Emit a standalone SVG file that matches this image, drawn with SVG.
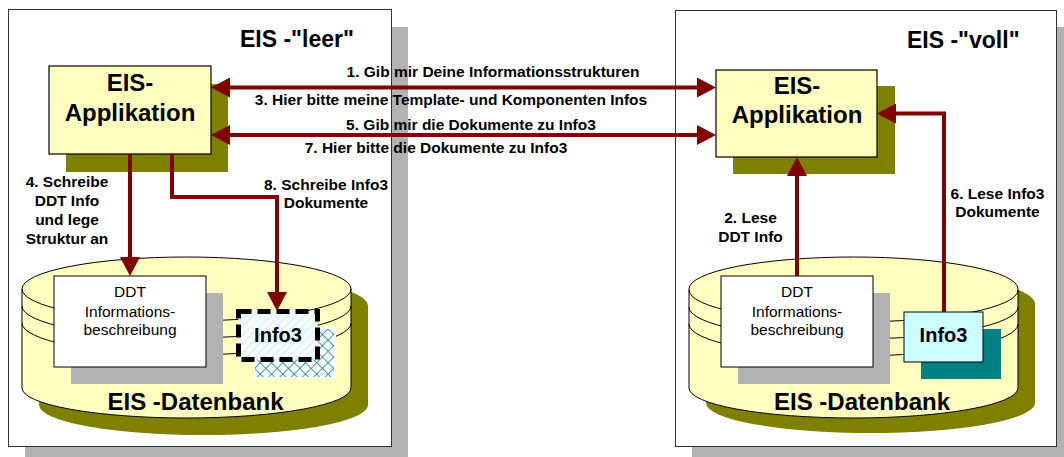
<svg xmlns="http://www.w3.org/2000/svg" width="1064" height="457" viewBox="0 0 1064 457">
  <style>
    .panel { fill: #ffffff; stroke: #333333; stroke-width: 1; }
    .pshadow { fill: #b2b2b2; }
    .app { fill: #ffffc0; stroke: #000000; stroke-width: 1.2; }
    .olive { fill: #808000; }
    .db { fill: #ffffc0; stroke: #000000; stroke-width: 1; }
    .ring { fill: none; stroke: #000000; stroke-width: 1; }
    .doc { fill: #ffffff; stroke: #000000; stroke-width: 1; }
    .gshadow { fill: #b2b2b2; }
    .title { font: bold 23px "Liberation Sans", Arial, sans-serif; fill: #000; }
    .apptxt { font: bold 24px "Liberation Sans", Arial, sans-serif; fill: #000; text-anchor: middle; }
    .dbtxt { font: bold 24px "Liberation Sans", Arial, sans-serif; fill: #000; text-anchor: middle; }
    .lbl { font: bold 15.5px "Liberation Sans", Arial, sans-serif; fill: #000; text-anchor: middle; }
    .doctxt { font: 15.5px "Liberation Sans", Arial, sans-serif; fill: #000; text-anchor: middle; }
    .infotxt { font: bold 20px "Liberation Sans", Arial, sans-serif; fill: #000; text-anchor: middle; }
    .conn { fill: none; stroke: #800000; stroke-width: 4; }
  </style>
  <defs>
    <marker id="head" viewBox="0 0 19 20" refX="13" refY="10" markerWidth="19" markerHeight="20" markerUnits="userSpaceOnUse" orient="auto-start-reverse">
      <path d="M0,0 L19,10 L0,20 Z" fill="#800000"/>
    </marker>
    <pattern id="stripes" width="6" height="6" patternUnits="userSpaceOnUse" patternTransform="rotate(45)">
      <rect width="6" height="6" fill="#ffffff"/>
      <line x1="0" y1="0" x2="0" y2="6" stroke="#bff3fa" stroke-width="2.5"/>
    </pattern>
    <pattern id="cross" width="8" height="8" patternUnits="userSpaceOnUse" patternTransform="rotate(45)">
      <rect width="8" height="8" fill="#ffffff"/>
      <line x1="0" y1="0" x2="0" y2="8" stroke="#008080" stroke-width="1.5"/>
      <line x1="0" y1="0" x2="8" y2="0" stroke="#008080" stroke-width="1.5"/>
    </pattern>
    <!-- cylinder body: top back arc, sides, bottom front arc -->
    <path id="cyl" d="M22,289 L22,388 A164.5,30 0 0 0 351,388 L351,289 A164.5,32 0 0 0 22,289 Z"/>
  </defs>

  <!-- left frame: EIS "leer" -->
  <g id="panel-leer">
    <rect class="pshadow" x="25" y="27" width="383" height="437"/>
    <rect class="panel" x="8.5" y="9.5" width="383" height="437"/>
    <text class="title" x="240" y="47">EIS -"leer"</text>
  </g>

  <!-- right frame: EIS "voll" -->
  <g id="panel-voll">
    <rect class="pshadow" x="692" y="27" width="390" height="437"/>
    <rect class="panel" x="675.5" y="10.5" width="381" height="436"/>
    <text class="title" x="907" y="48">EIS -"voll"</text>
  </g>

  <!-- application boxes -->
  <g id="app-leer">
    <rect class="olive" x="66" y="84" width="162" height="88"/>
    <rect class="app" x="49" y="66" width="162" height="88"/>
    <text class="apptxt" x="130" y="91">EIS-</text>
    <text class="apptxt" x="130" y="121">Applikation</text>
  </g>
  <g id="app-voll">
    <rect class="olive" x="733" y="86" width="162" height="88"/>
    <rect class="app" x="716" y="70" width="161" height="87"/>
    <text class="apptxt" x="797" y="94">EIS-</text>
    <text class="apptxt" x="797" y="123">Applikation</text>
  </g>

  <!-- databases -->
  <g id="db-leer">
    <use href="#cyl" class="olive" transform="translate(17,17)"/>
    <use href="#cyl" class="db"/>
    <path class="ring" d="M22,289 A164.5,32 0 0 0 351,289"/>
    <path class="ring" d="M22,306 A164.5,32 0 0 0 351,306"/>
    <path class="ring" d="M22,323 A164.5,32 0 0 0 351,323"/>
    <text class="dbtxt" x="195.5" y="410">EIS -Datenbank</text>
  </g>
  <g id="db-voll">
    <use href="#cyl" class="olive" transform="translate(684,15)"/>
    <use href="#cyl" class="db" transform="translate(667,0)"/>
    <path class="ring" d="M689,290 A164.5,32 0 0 0 1018,290"/>
    <path class="ring" d="M689,307 A164.5,32 0 0 0 1018,307"/>
    <path class="ring" d="M689,324 A164.5,32 0 0 0 1018,324"/>
    <text class="dbtxt" x="862" y="410">EIS -Datenbank</text>
  </g>

  <!-- DDT description documents -->
  <g id="ddt-leer">
    <rect class="gshadow" x="71" y="293" width="152" height="91"/>
    <rect class="doc" x="54" y="276" width="152" height="91"/>
    <text class="doctxt" x="130" y="297">DDT</text>
    <text class="doctxt" x="130" y="317">Informations-</text>
    <text class="doctxt" x="130" y="335">beschreibung</text>
  </g>
  <g id="ddt-voll">
    <rect class="gshadow" x="738" y="293" width="152" height="91"/>
    <rect class="doc" x="721" y="276" width="152" height="91"/>
    <text class="doctxt" x="797" y="297">DDT</text>
    <text class="doctxt" x="797" y="317">Informations-</text>
    <text class="doctxt" x="797" y="335">beschreibung</text>
  </g>

  <!-- Info3: not yet present (dashed) / present -->
  <g id="info3-leer">
    <rect x="253" y="327" width="83" height="52" fill="#ffffff"/>
    <rect x="255" y="329" width="79" height="48" fill="url(#cross)"/>
    <rect x="238.5" y="311.5" width="79" height="48" fill="url(#stripes)" stroke="#000000" stroke-width="5" stroke-dasharray="13 6"/>
    <text class="infotxt" x="278" y="342">Info3</text>
  </g>
  <g id="info3-voll">
    <rect x="921" y="329" width="80" height="50" fill="#008080"/>
    <rect x="904" y="312" width="79" height="50" fill="#ccffff" stroke="#000000" stroke-width="1"/>
    <text class="infotxt" x="943.5" y="342">Info3</text>
  </g>

  <!-- message and data flows -->
  <g id="connectors">
    <path class="conn" d="M217,87.5 L710,87.5" marker-start="url(#head)" marker-end="url(#head)"/>
    <path class="conn" d="M217,135 L710,135" marker-start="url(#head)" marker-end="url(#head)"/>
    <path class="conn" d="M130,154 L130,270" marker-end="url(#head)"/>
    <path class="conn" d="M172,154 L172,197 L277,197 L277,305" marker-end="url(#head)"/>
    <path class="conn" d="M797,276 L797,163" marker-end="url(#head)"/>
    <path class="conn" d="M944,312 L944,113.5 L883,113.5" marker-end="url(#head)"/>
  </g>

  <!-- flow labels -->
  <g id="labels">
    <text class="lbl" x="493" y="77">1. Gib mir Deine Informationsstrukturen</text>
    <text class="lbl" x="451" y="105">3. Hier bitte meine Template- und Komponenten Infos</text>
    <text class="lbl" x="471" y="130">5. Gib mir die Dokumente zu Info3</text>
    <text class="lbl" x="436" y="153">7. Hier bitte die Dokumente zu Info3</text>
    <text class="lbl" x="67" y="187">4. Schreibe</text>
    <text class="lbl" x="67" y="206">DDT Info</text>
    <text class="lbl" x="67" y="225">und lege</text>
    <text class="lbl" x="67" y="244">Struktur an</text>
    <text class="lbl" x="326" y="190">8. Schreibe Info3</text>
    <text class="lbl" x="326" y="208">Dokumente</text>
    <text class="lbl" x="750.5" y="223">2. Lese</text>
    <text class="lbl" x="750.5" y="242">DDT Info</text>
    <text class="lbl" x="997.5" y="199">6. Lese Info3</text>
    <text class="lbl" x="997.5" y="217">Dokumente</text>
  </g>
</svg>
